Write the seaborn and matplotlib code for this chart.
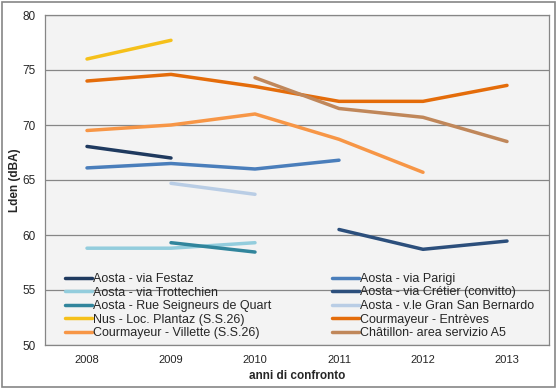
import numpy as np
import pandas as pd
import matplotlib
matplotlib.use("Agg")
import matplotlib.pyplot as plt
import seaborn as sns

years = [2008, 2009, 2010, 2011, 2012, 2013]

festaz       = [68.05, 67.0, None, None, None, None]
parigi       = [66.1, 66.5, 66.0, 66.8, None, None]
trottechien  = [58.8, 58.8, 59.3, None, None, None]
cretier      = [None, None, None, 60.5, 58.7, 59.45]
seigneurs    = [None, 59.3, 58.45, None, None, None]
gran_sb      = [None, 64.7, 63.7, None, None, None]
nus          = [76.0, 77.7, None, None, None, None]
entreves     = [74.0, 74.6, 73.5, 72.15, 72.15, 73.6]
villette     = [69.5, 70.0, 71.0, 68.7, 65.7, None]
chatillon    = [None, None, 74.3, 71.5, 70.7, 68.5]

names = ["Aosta - via Festaz", "Aosta - via Parigi", "Aosta - via Trottechien",
         "Aosta - via Crétier (convitto)", "Aosta - Rue Seigneurs de Quart",
         "Aosta - v.le Gran San Bernardo", "Nus - Loc. Plantaz (S.S.26)",
         "Courmayeur - Entrèves", "Courmayeur - Villette (S.S.26)",
         "Châtillon- area servizio A5"]
series = [festaz, parigi, trottechien, cretier, seigneurs, gran_sb,
          nus, entreves, villette, chatillon]
colors = ["#1F3A5F", "#4A7EBB", "#93CDDD", "#2C4F7C", "#31859C",
          "#B9CDE5", "#F5C01A", "#E46C0A", "#F79646", "#C0875A"]

rows = []
for name, vals in zip(names, series):
    for y, v in zip(years, vals):
        if v is not None:
            rows.append({"anno": y, "Lden": v, "punto": name})
df = pd.DataFrame(rows)

sns.set_style("white")
plt.rcParams['font.family'] = ['Liberation Sans', 'DejaVu Sans']

fig = plt.figure(figsize=(5.58, 3.89), dpi=100)
ax = fig.add_axes([45/558, 1 - 345/389, 504/558, 330/389])
ax.set_facecolor("#F3F3F3")

sns.lineplot(data=df, x="anno", y="Lden", hue="punto", hue_order=names,
             palette=colors, linewidth=2.5, ax=ax, legend=True)

ax.set_xlim(2007.5, 2013.5)
ax.set_ylim(50, 80)
ax.set_xticks(years)
ax.set_xticklabels([str(y) for y in years], fontsize=8)
ax.set_yticks(range(50, 81, 5))
ax.tick_params(axis="y", labelsize=8.5, length=0, pad=6.5)
ax.tick_params(axis="x", length=0, pad=7)
ax.grid(axis="y", color="#868686", linewidth=0.9)
ax.set_axisbelow(True)
for s in ax.spines.values():
    s.set_color("#868686")
    s.set_linewidth(0.9)

ax.set_xlabel("anni di confronto", fontsize=8.5, fontweight="bold", labelpad=4)
ax.set_ylabel("Lden (dBA)", fontsize=8.5, fontweight="bold", labelpad=1)

h, l = ax.get_legend_handles_labels()
ax.get_legend().remove()
leg_kw = dict(loc="lower left", frameon=False, fontsize=9, handlelength=2.15,
              handletextpad=0.1, labelspacing=0.12, borderaxespad=0,
              borderpad=0)
leg1 = ax.legend([h[i] for i in [0, 2, 4, 6, 8]], [l[i] for i in [0, 2, 4, 6, 8]],
                 bbox_to_anchor=(20/504, 6/330), **leg_kw)
ax.add_artist(leg1)
ax.legend([h[i] for i in [1, 3, 5, 7, 9]], [l[i] for i in [1, 3, 5, 7, 9]],
          bbox_to_anchor=(287/504, 6/330), **leg_kw)

fig.patches.append(matplotlib.patches.Rectangle((0.003, 0.004), 0.992, 0.99,
                   transform=fig.transFigure, fill=False,
                   edgecolor="#868686", linewidth=1.2))

fig.savefig("out.png", dpi=100)
